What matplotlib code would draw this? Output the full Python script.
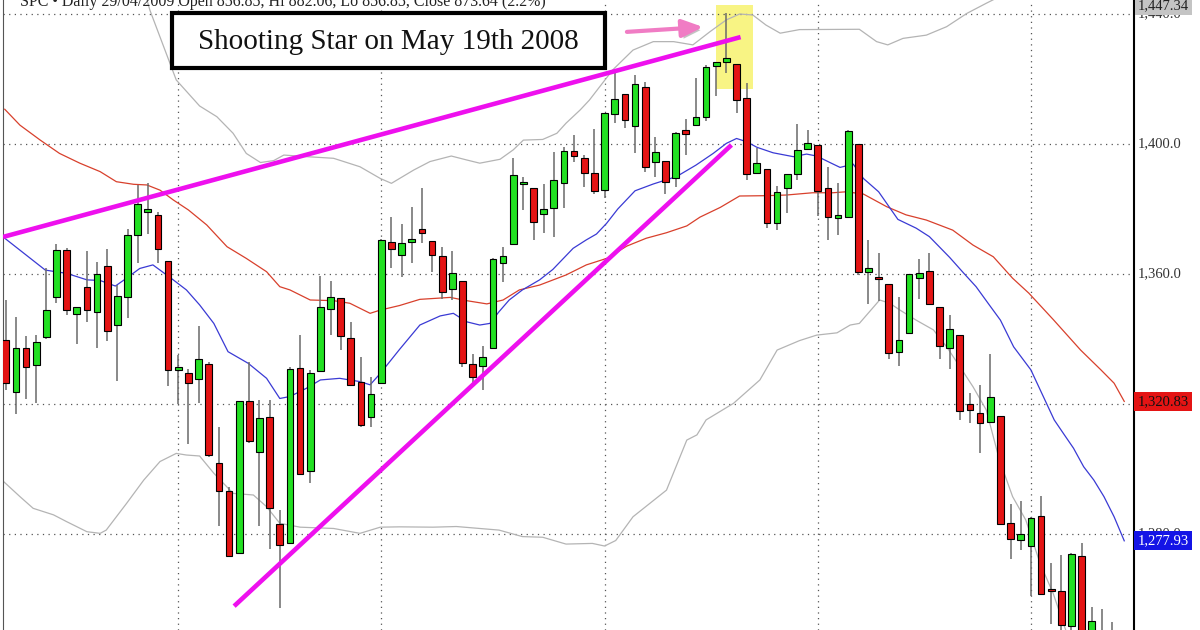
import matplotlib
matplotlib.use('Agg')
import matplotlib.pyplot as plt
import matplotlib.patheffects as pe
from matplotlib.patches import Rectangle
import numpy as np

# daily candles, S&P 500, Feb-Jul 2008
opens = [
    1339.7, 1323.8, 1337.1, 1331.9, 1340.5, 1352.8, 1367.4, 1347.6, 1355.9, 1348.4,
    1362.5, 1344.3, 1352.8, 1371.9, 1379.0, 1378.2, 1364.1, 1330.5, 1329.6, 1327.6,
    1332.2, 1301.7, 1293.2, 1274.3, 1321.0, 1305.1, 1316.1, 1283.0, 1277.1, 1331.0,
    1299.5, 1330.3, 1349.2, 1352.5, 1340.2, 1326.9, 1316.1, 1326.4, 1369.9, 1365.8,
    1370.0, 1373.7, 1370.2, 1365.6, 1355.3, 1357.8, 1332.3, 1331.7, 1337.1, 1363.5,
    1369.1, 1387.7, 1386.4, 1378.5, 1380.4, 1387.9, 1397.9, 1395.6, 1391.2, 1385.8,
    1409.2, 1415.4, 1405.6, 1417.4, 1394.4, 1394.9, 1389.4, 1404.3, 1405.9, 1408.2,
    1424.0, 1425.1, 1424.5, 1414.1, 1391.0, 1392.2, 1375.8, 1386.6, 1390.8, 1398.4,
    1399.7, 1386.4, 1377.3, 1377.6, 1400.0, 1360.7, 1359.2, 1356.9, 1335.9, 1341.7,
    1358.9, 1360.9, 1349.8, 1337.1, 1341.2, 1320.0, 1317.3, 1314.6, 1316.4, 1283.5,
    1278.0, 1276.4, 1285.6, 1263.0, 1262.6, 1251.8, 1273.2, 1245.3, 1248.7, 1241.6,
]
highs = [
    1352.0, 1346.9, 1340.9, 1341.2, 1361.8, 1369.1, 1367.9, 1350.0, 1367.2, 1363.8,
    1367.6, 1356.6, 1374.0, 1387.4, 1388.1, 1379.0, 1364.1, 1335.1, 1330.7, 1344.0,
    1333.0, 1313.0, 1294.5, 1320.8, 1333.0, 1321.2, 1321.2, 1287.4, 1331.5, 1341.2,
    1330.5, 1359.4, 1357.7, 1352.5, 1345.3, 1334.6, 1328.4, 1370.8, 1377.6, 1375.4,
    1380.5, 1386.4, 1370.2, 1368.2, 1367.2, 1357.8, 1335.4, 1337.9, 1365.0, 1368.2,
    1395.6, 1389.9, 1386.4, 1387.7, 1397.6, 1399.0, 1402.8, 1396.6, 1404.5, 1409.4,
    1421.7, 1415.4, 1421.2, 1419.2, 1402.1, 1394.9, 1403.8, 1407.6, 1420.2, 1424.3,
    1425.3, 1440.2, 1424.5, 1418.9, 1398.7, 1392.2, 1387.1, 1390.8, 1406.2, 1404.3,
    1399.7, 1393.0, 1388.1, 1404.3, 1400.0, 1370.5, 1366.6, 1357.0, 1352.8, 1360.0,
    1364.5, 1366.4, 1349.8, 1347.4, 1341.2, 1323.5, 1325.8, 1335.4, 1316.4, 1289.2,
    1290.3, 1285.2, 1291.7, 1271.2, 1273.5, 1274.1, 1277.1, 1257.4, 1256.8, 1253.0,
]
lows = [
    1324.3, 1317.0, 1321.4, 1320.4, 1340.0, 1351.0, 1347.4, 1338.5, 1345.2, 1337.1,
    1339.5, 1327.2, 1346.4, 1363.5, 1372.3, 1363.5, 1325.5, 1320.0, 1307.7, 1320.4,
    1303.6, 1282.5, 1273.0, 1274.3, 1308.1, 1282.5, 1275.3, 1257.1, 1277.1, 1298.2,
    1295.6, 1330.3, 1341.2, 1336.6, 1325.5, 1313.0, 1313.0, 1326.4, 1361.7, 1359.2,
    1363.3, 1369.4, 1360.7, 1352.2, 1352.0, 1331.3, 1326.4, 1324.3, 1337.0, 1357.6,
    1369.1, 1379.7, 1370.5, 1372.5, 1371.5, 1380.2, 1394.6, 1386.9, 1384.6, 1383.5,
    1406.4, 1404.8, 1397.3, 1391.5, 1389.7, 1384.6, 1386.7, 1396.6, 1405.9, 1407.2,
    1414.8, 1422.0, 1409.4, 1388.9, 1390.7, 1374.1, 1373.5, 1378.7, 1388.9, 1398.4,
    1378.0, 1370.5, 1372.0, 1377.6, 1359.6, 1350.8, 1351.8, 1334.0, 1331.7, 1341.7,
    1352.2, 1350.8, 1333.7, 1330.7, 1315.0, 1314.0, 1304.8, 1314.6, 1283.0, 1272.2,
    1275.1, 1260.9, 1261.5, 1252.3, 1240.7, 1242.8, 1244.6, 1236.8, 1225.4, 1225.0,
]
closes = [
    1326.4, 1337.1, 1331.5, 1339.0, 1348.9, 1367.4, 1349.0, 1350.0, 1348.9, 1360.0,
    1342.6, 1353.2, 1371.9, 1381.5, 1380.0, 1367.6, 1330.5, 1331.5, 1326.6, 1333.7,
    1304.3, 1293.3, 1273.2, 1320.8, 1308.7, 1315.6, 1288.1, 1276.6, 1330.7, 1298.5,
    1329.4, 1350.0, 1352.8, 1341.0, 1325.9, 1313.5, 1323.1, 1370.5, 1367.6, 1369.4,
    1370.7, 1372.7, 1365.7, 1354.4, 1360.4, 1332.7, 1328.4, 1334.6, 1364.7, 1365.5,
    1390.4, 1388.3, 1375.9, 1380.0, 1388.8, 1397.9, 1396.4, 1391.0, 1385.6, 1409.4,
    1413.9, 1407.4, 1418.4, 1392.8, 1397.6, 1388.2, 1403.5, 1403.1, 1408.4, 1423.6,
    1425.3, 1426.4, 1413.5, 1390.7, 1394.3, 1375.8, 1385.1, 1390.8, 1398.2, 1400.2,
    1385.6, 1377.6, 1378.3, 1404.1, 1360.7, 1361.7, 1358.5, 1335.6, 1339.8, 1360.0,
    1360.2, 1350.8, 1337.9, 1343.0, 1317.9, 1318.1, 1314.3, 1322.0, 1283.1, 1278.5,
    1279.9, 1284.9, 1261.5, 1262.6, 1252.0, 1273.7, 1244.7, 1253.3, 1239.5, 1228.3,
]

# indicator lines, sampled along the chart: (bar index, price)
blue_ma = [
    (-0.3, 1371.5), (3.9, 1361.2), (6, 1360.2), (8, 1358.2), (9.3, 1358.0), (10.8, 1356.3),
    (11.9, 1358.7), (13.2, 1361.7), (14.5, 1362.8), (15.2, 1361.2), (16.5, 1358.2),
    (17.8, 1355.1), (19.1, 1350.5), (20.5, 1344.8), (21.9, 1336.1), (23.9, 1332.5),
    (25.7, 1327.9), (27, 1321.7), (28, 1322.3), (29.6, 1324.8), (31, 1327.4), (32.9, 1327.9),
    (34.9, 1326.9), (35.9, 1325.9), (36.9, 1329.4), (38.8, 1336.8), (40.8, 1344.3),
    (42.8, 1347.1), (44.1, 1347.9), (45.4, 1345.3), (46.7, 1344.3), (47.7, 1344.8),
    (48.6, 1348.4), (49.6, 1352.0), (50.9, 1355.1), (52.6, 1358.2), (53.9, 1361.4),
    (55.9, 1367.9), (57.2, 1370.5), (58.2, 1372.3), (59.2, 1375.6), (60.3, 1380.0),
    (62, 1385.6), (63.8, 1387.7), (66.1, 1390.0), (68, 1393.5), (69.7, 1397.1), (71, 1400.2),
    (72, 1401.7), (73, 1400.7), (74, 1399.0), (75.6, 1397.3), (77.6, 1396.1), (78.9, 1396.9),
    (79.9, 1396.3), (81.2, 1394.3), (82.2, 1392.8), (83.5, 1393.8), (84.5, 1389.4),
    (86, 1385.3), (87.9, 1376.8), (89.7, 1374.1), (91, 1371.5), (93, 1365.1), (94.4, 1360.2),
    (95.6, 1356.1), (96.9, 1350.5), (98, 1345.8), (99.3, 1337.6), (101, 1330.5),
    (102, 1323.8), (103.3, 1315.1), (104.3, 1310.5), (105.2, 1306.4), (106.2, 1300.7),
    (107.2, 1296.6), (108.2, 1291.5), (109.2, 1285.3), (110.2, 1277.9),
]
red_ma = [
    (-0.1, 1410.7), (1.4, 1405.8), (3.4, 1401.2), (5.3, 1397.1), (7.3, 1394.1), (9.3, 1391.5),
    (10.9, 1388.4), (12.6, 1387.6), (13.9, 1387.4), (15.2, 1385.8), (16.5, 1382.8),
    (18, 1379.7), (19.8, 1375.1), (21.8, 1368.4), (23.7, 1364.8), (25.7, 1360.7),
    (27, 1356.1), (28, 1355.1), (30, 1352.0), (32.3, 1351.8), (33.9, 1351.0), (35.9, 1347.9),
    (36.9, 1348.9), (38.8, 1350.3), (40.8, 1352.2), (43.8, 1352.8), (45.4, 1351.8),
    (47.4, 1350.8), (49, 1352.0), (50.6, 1355.1), (52.6, 1356.6), (55.2, 1359.7),
    (57.2, 1362.8), (59.2, 1364.8), (61.2, 1368.6), (63.1, 1371.0), (65.1, 1372.7),
    (67.1, 1374.8), (68.4, 1377.5), (70.4, 1380.5), (72.3, 1384.0), (74.9, 1384.1),
    (76.9, 1384.3), (79.5, 1385.0), (81.5, 1385.0), (82.8, 1385.3), (84.5, 1384.6),
    (86.8, 1380.7), (88.7, 1378.2), (90.7, 1376.6), (93.3, 1373.5), (95.3, 1368.9),
    (97.3, 1365.3), (99.2, 1358.7), (100.8, 1354.1), (103.2, 1346.0), (105.9, 1336.6),
    (107.9, 1330.5), (109.2, 1326.4), (110.2, 1320.8),
]
upper_band = [
    (13.9, 1444.5), (14.2, 1441.2), (16.8, 1419.7), (19.1, 1411.7), (20.8, 1408.4),
    (22.4, 1403.3), (23.7, 1397.1), (25.1, 1394.3), (26.4, 1394.9), (27.4, 1396.6),
    (29.7, 1396.1), (32.3, 1395.6), (34.9, 1393.0), (36.9, 1389.4), (38, 1387.9),
    (40.2, 1392.0), (41.8, 1394.6), (43.9, 1396.3), (45.4, 1395.1), (46.7, 1394.1),
    (48.7, 1395.3), (50, 1398.2), (51, 1401.2), (52.9, 1401.4), (54.3, 1403.3),
    (55.2, 1406.4), (56.6, 1410.5), (57.5, 1413.5), (59.8, 1422.8), (61.8, 1428.9),
    (63.8, 1431.5), (65.8, 1431.5), (67.7, 1430.5), (69.4, 1434.6), (71, 1438.2),
    (72.3, 1440.0), (73.6, 1439.7), (74.9, 1436.6), (76.3, 1434.1), (78.2, 1435.2),
    (84.1, 1435.3), (85.8, 1431.5), (86.9, 1430.5), (88.4, 1432.5), (90.7, 1433.5),
    (92.7, 1436.1), (94.7, 1440.2), (96.6, 1443.3), (98, 1445.5),
]
lower_band = [
    (-0.2, 1296.1), (1.4, 1291.5), (2.7, 1287.9), (4.7, 1285.9), (6, 1283.8), (8, 1280.7),
    (9.3, 1280.2), (9.9, 1281.2), (11.9, 1289.4), (13.6, 1296.6), (15.2, 1302.3),
    (16.8, 1304.8), (17.8, 1304.3), (19.1, 1304.0), (20.5, 1298.7), (22.4, 1292.5),
    (24.4, 1292.0), (25.7, 1288.4), (27, 1283.3), (29, 1282.1), (32.3, 1281.7),
    (34.9, 1280.2), (36.9, 1282.1), (38.8, 1282.2), (42.1, 1282.1), (44.4, 1282.3),
    (48.6, 1281.2), (50.9, 1279.2), (52.9, 1279.0), (55.2, 1276.9), (57.8, 1277.1),
    (59, 1276.3), (60.1, 1278.0), (61.8, 1285.3), (65.1, 1293.5), (67.1, 1308.9),
    (68.1, 1310.5), (69, 1315.1), (71.7, 1320.2), (74.3, 1327.4), (76, 1336.6),
    (78.2, 1339.5), (79.9, 1341.2), (81.9, 1341.9), (83.2, 1344.3), (84.1, 1344.8),
    (86.1, 1352.0), (87.1, 1351.0), (88.1, 1348.9), (89.7, 1345.8), (91.4, 1342.8),
    (92.7, 1337.6), (94, 1331.5), (95.3, 1325.3), (96.6, 1318.2), (97.9, 1302.8),
    (99.2, 1291.5), (100.5, 1284.3), (101.9, 1271.0), (103.2, 1261.7), (104.2, 1252.5),
    (104.6, 1249.0),
]

# hand drawn annotations
resist_x, resist_y = [-0.27, 72.4], [1371.4, 1432.9]
support_x, support_y = [22.5, 71.5], [1257.8, 1399.7]
highlight_idx = [70.0, 73.6]
highlight_price = [1416.9, 1442.8]
arrow_from, arrow_to = (61.2, 1434.5), (68.7, 1436.0)

price_grid = [1440, 1400, 1360, 1320, 1280]
grid_labels = ['1,440.0', '1,400.0', '1,360.0', '1,320.0', '1,280.0']
month_starts = [17, 37, 59, 80, 101]   # Mar, Apr, May, Jun, Jul
last_red_ma, last_blue_ma, last_upper = 1320.83, 1277.93, 1447.34

header = 'SPC \u2022 Daily 29/04/2009 Open 856.85, Hi 882.06, Lo 856.85, Close 873.64 (2.2%)'
title = 'Shooting Star on May 19th 2008'
serif = ['Liberation Serif', 'DejaVu Serif']

fig = plt.figure(figsize=(12, 6.3), dpi=100)
ax = fig.add_axes([3 / 1200, 0, 1131 / 1200, 1])
ax.set_xlim(-0.27, 111.16)
ax.set_ylim(1250.46, 1444.31)
ax.set_xticks([])
ax.set_yticks([])
for s in ['top', 'bottom']:
    ax.spines[s].set_visible(False)
ax.spines['left'].set_color('#555555')
ax.spines['left'].set_linewidth(0.8)
ax.spines['right'].set_color('black')
ax.spines['right'].set_linewidth(1.5)

# dotted grid
for p in price_grid:
    ax.axhline(p, color='#555555', lw=0.9, ls=(0, (1, 3.5)), zorder=1)
for m in month_starts:
    ax.axvline(m, color='#555555', lw=0.9, ls=(0, (1, 3.5)), zorder=1)

# yellow highlight behind the shooting star
ax.add_patch(Rectangle((highlight_idx[0], highlight_price[0]),
                       highlight_idx[1] - highlight_idx[0],
                       highlight_price[1] - highlight_price[0],
                       facecolor='#f8f484', edgecolor='none', zorder=0.5))

# bands and moving averages
bx, by = zip(*upper_band)
ax.plot(bx, by, color='#b4b4b4', lw=0.9, zorder=2)
bx, by = zip(*lower_band)
ax.plot(bx, by, color='#b4b4b4', lw=0.9, zorder=2)
mx, my = zip(*red_ma)
ax.plot(mx, my, color='#d8402c', lw=0.9, zorder=2)
mx, my = zip(*blue_ma)
ax.plot(mx, my, color='#3a3ad4', lw=0.9, zorder=2)

# candles
o = np.array(opens)
c = np.array(closes)
idx = np.arange(len(o))
ax.vlines(idx, lows, highs, color='#6a6a6a', lw=1.1, zorder=3)
body_bottom = np.minimum(o, c)
body_height = np.maximum(np.abs(c - o), 0.4)
body_color = ['#22e022' if up else '#e41414' for up in c >= o]
ax.bar(idx, body_height, bottom=body_bottom, width=0.66, color=body_color,
       edgecolor='black', linewidth=0.8, zorder=4)

# trend lines
ax.plot(resist_x, resist_y, color='#ee10ee', lw=3.3, solid_capstyle='butt', zorder=6)
ax.plot(support_x, support_y, color='#ee10ee', lw=3.3, solid_capstyle='butt', zorder=6)

# pink arrow pointing at the candle
ann = ax.annotate('', xy=arrow_to, xytext=arrow_from, zorder=7,
                  arrowprops=dict(arrowstyle='-|>,head_length=0.7,head_width=0.3',
                                  color='#f07cc4', lw=3, mutation_scale=18,
                                  shrinkA=0, shrinkB=0))
ann.arrow_patch.set_path_effects([pe.SimplePatchShadow(offset=(2, -2), shadow_rgbFace='#888888', alpha=0.5),
                                  pe.Normal()])

# right-hand price scale
ytrans = ax.get_yaxis_transform()
for p, lab in zip(price_grid, grid_labels):
    ax.text(1.003, p, lab, transform=ytrans, va='center', ha='left', fontsize=10.5,
            family=serif, color='#333333', clip_on=False, zorder=8)
ax.text(1.003, last_red_ma, f'{last_red_ma:,.2f}', transform=ytrans, va='center', ha='left',
        fontsize=10.5, family=serif, color='#111111', clip_on=False, zorder=9,
        bbox=dict(boxstyle='square,pad=0.2', fc='#e41414', ec='none'))
ax.text(1.003, last_blue_ma, f'{last_blue_ma:,.2f}', transform=ytrans, va='center', ha='left',
        fontsize=10.5, family=serif, color='white', clip_on=False, zorder=9,
        bbox=dict(boxstyle='square,pad=0.2', fc='#1414e6', ec='none'))
fig.text(1138 / 1200, 1 - 6 / 630, f'{last_upper:,.2f}', va='center', ha='left', fontsize=10.5,
         family=serif, color='#222222', zorder=9,
         bbox=dict(boxstyle='square,pad=0.2', fc='#c4c4c4', ec='none'))

# header line, cut at the top
fig.text(20 / 1200, 1 - 6.5 / 630, header, va='baseline', ha='left', fontsize=11.5,
         family=serif, color='#222222')

# boxed caption
fig.add_artist(Rectangle((172 / 1200, 1 - 68 / 630), 433 / 1200, 55 / 630,
                         transform=fig.transFigure, facecolor='white',
                         edgecolor='black', lw=3, zorder=10))
fig.text(388 / 1200, 1 - 49 / 630, title, va='baseline', ha='center', fontsize=21,
         family=serif, color='#111111', zorder=11)

fig.savefig('out.png', dpi=100)
